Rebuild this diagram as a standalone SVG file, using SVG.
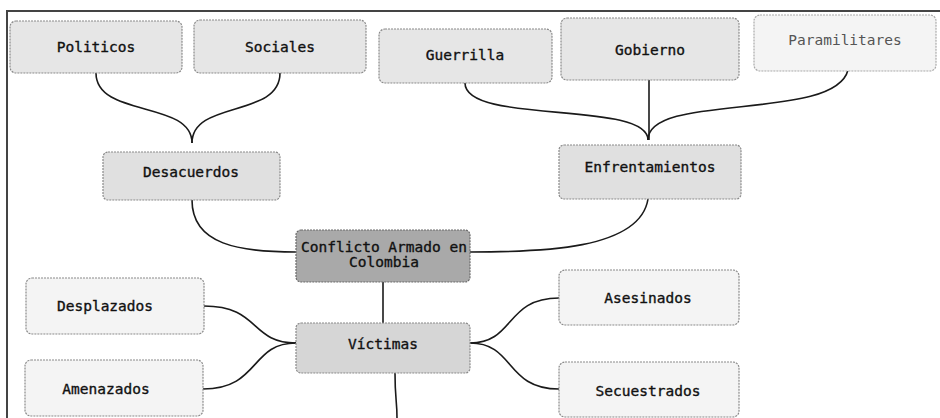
<svg xmlns="http://www.w3.org/2000/svg" width="940" height="418" viewBox="0 0 940 418">
<style>
  .box { stroke: #8a8a8a; stroke-width: 1.2; stroke-dasharray: 2 1; }
  .l1 { fill: #e6e6e6; }
  .l2 { fill: #e0e0e0; }
  .l3 { fill: #f4f4f4; }
  .dark { fill: #a9a9a9; stroke: #6a6a6a; }
  .mid { fill: #d6d6d6; }
  .t { font-family: "DejaVu Sans Mono", "Liberation Mono", monospace; font-size: 14.5px; fill: #111; stroke: #111; stroke-width: 0.35; text-anchor: middle; }
  .light { fill: #555; stroke: none; }
  .conn path { fill: none; stroke: #1a1a1a; stroke-width: 1.6; }
</style>
<rect x="0" y="0" width="940" height="418" fill="#ffffff"/>
<path d="M7,418 L7,11 L940,11" fill="none" stroke="#444" stroke-width="2"/>

<g id="connectors" class="conn">
  <path d="M96,73 C96,118 192,100 192,143"/>
  <path d="M280,73 C280,118 192,100 192,143"/>
  <path d="M192,200 C192,245 240,252 296,252"/>
  <path d="M465,83 C465,125 648,100 648,140"/>
  <path d="M649,80 L649,140"/>
  <path d="M848,70 C835,122 648,92 648,140"/>
  <path d="M648,199 C640,250 540,252 470,252"/>
  <path d="M383,282 L383,323"/>
  <path d="M296,343 C250,343 260,306 204,306"/>
  <path d="M296,343 C250,343 260,389 203,389"/>
  <path d="M470,343 C515,343 505,298 559,298"/>
  <path d="M470,343 C515,343 505,389 559,389"/>
  <path d="M395,373 C395,400 397,400 397,418"/>
</g>

<g id="politicos"><rect class="box l1" x="10" y="21" width="172" height="52" rx="6"/><text class="t" x="96" y="52">Politicos</text></g>
<g id="sociales"><rect class="box l1" x="194" y="20" width="172" height="53" rx="6"/><text class="t" x="280" y="52">Sociales</text></g>
<g id="guerrilla"><rect class="box l1" x="379" y="29" width="173" height="54" rx="6"/><text class="t" x="465" y="60">Guerrilla</text></g>
<g id="gobierno"><rect class="box l1" x="561" y="18" width="178" height="62" rx="6"/><text class="t" x="650" y="55">Gobierno</text></g>
<g id="paramilitares"><rect class="box l3" x="754" y="15" width="182" height="56" rx="6" style="stroke:#aaa"/><text class="t light" x="845" y="45">Paramilitares</text></g>
<g id="desacuerdos"><rect class="box l2" x="103" y="152" width="177" height="48" rx="5"/><text class="t" x="191" y="177">Desacuerdos</text></g>
<g id="enfrentamientos"><rect class="box l2" x="559" y="145" width="182" height="54" rx="5"/><text class="t" x="650" y="172">Enfrentamientos</text></g>
<g id="conflicto"><rect class="box dark" x="296" y="230" width="174" height="52" rx="5"/><text class="t" x="384" y="252">Conflicto Armado en</text><text class="t" x="384" y="267">Colombia</text></g>
<g id="victimas"><rect class="box mid" x="296" y="323" width="174" height="50" rx="5"/><text class="t" x="383" y="349">Víctimas</text></g>
<g id="desplazados"><rect class="box l3" x="26" y="278" width="178" height="56" rx="6"/><text class="t" x="105" y="311">Desplazados</text></g>
<g id="amenazados"><rect class="box l3" x="25" y="360" width="178" height="56" rx="6"/><text class="t" x="106" y="394">Amenazados</text></g>
<g id="asesinados"><rect class="box l3" x="559" y="270" width="180" height="55" rx="6"/><text class="t" x="648" y="303">Asesinados</text></g>
<g id="secuestrados"><rect class="box l3" x="559" y="362" width="180" height="55" rx="6"/><text class="t" x="648" y="396">Secuestrados</text></g>
</svg>
